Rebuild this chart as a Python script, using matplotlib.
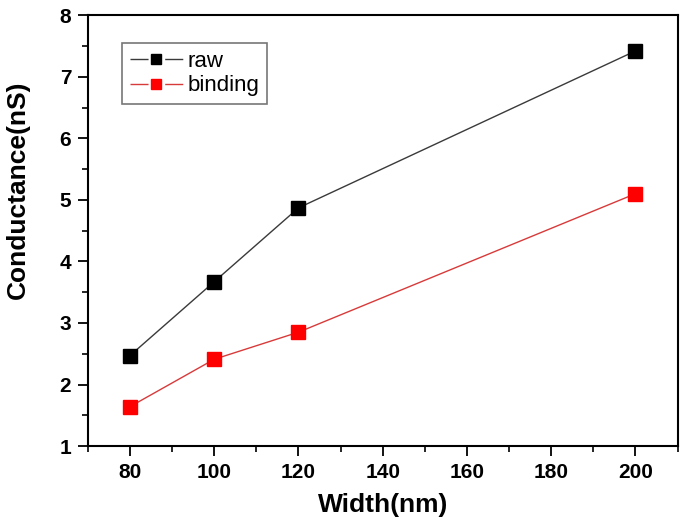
import matplotlib
matplotlib.use("Agg")
import matplotlib.pyplot as plt
from matplotlib.ticker import MultipleLocator
from matplotlib.lines import Line2D

# Channel width (nm) and measured conductance (nS)
widths = [80, 100, 120, 200]
raw = [2.47, 3.67, 4.87, 7.42]
binding = [1.64, 2.41, 2.85, 5.10]

plt.rcParams['font.family'] = ['Liberation Sans', 'DejaVu Sans']

fig = plt.figure(figsize=(6.81, 5.26), dpi=100)
ax = fig.add_axes([0.129, 0.152, 0.866, 0.819])

ax.plot(widths, raw, color='#3a3a3a', lw=1.0, marker='s', ms=9.5,
        mfc='black', mec='black')
ax.plot(widths, binding, color='#d83a3a', lw=1.0, marker='s', ms=9.5,
        mfc='#ff0000', mec='#ff0000')

ax.set_xlim(70, 210)
ax.set_ylim(1, 8)
ax.xaxis.set_major_locator(MultipleLocator(20))
ax.xaxis.set_minor_locator(MultipleLocator(10))
ax.yaxis.set_major_locator(MultipleLocator(1))
ax.yaxis.set_minor_locator(MultipleLocator(0.5))

ax.tick_params(which='major', direction='out', length=7, width=1.3,
               labelsize=15, pad=5)
ax.tick_params(which='minor', direction='out', length=4, width=1.2)
for lab in ax.get_xticklabels() + ax.get_yticklabels():
    lab.set_fontweight('bold')
for sp in ax.spines.values():
    sp.set_linewidth(1.5)

ax.set_xlabel('Width(nm)', fontsize=19, fontweight='bold', labelpad=8)
ax.set_ylabel('Conductance(nS)', fontsize=19, fontweight='bold', va='center')
ax.yaxis.set_label_coords(-0.119, 0.594)

# legend handles: short line, gap, small square, gap, short line
gap_dash = (0, (13, 12, 13, 60))
h_raw = Line2D([], [], color='#3a3a3a', lw=1.0, ls=gap_dash, marker='s',
               ms=6.5, mfc='black', mec='black')
h_bind = Line2D([], [], color='#d83a3a', lw=1.0, ls=gap_dash, marker='s',
                ms=6.5, mfc='#ff0000', mec='#ff0000')
leg = ax.legend([h_raw, h_bind], ['raw', 'binding'], loc='upper left',
                bbox_to_anchor=(0.058, 0.935), fontsize=16,
                frameon=True, fancybox=False, edgecolor='#555555',
                handlelength=2.4, handletextpad=0.2, borderpad=0.35,
                labelspacing=0.15, borderaxespad=0)
leg.get_frame().set_linewidth(1.2)

fig.savefig('out.png', dpi=100)
